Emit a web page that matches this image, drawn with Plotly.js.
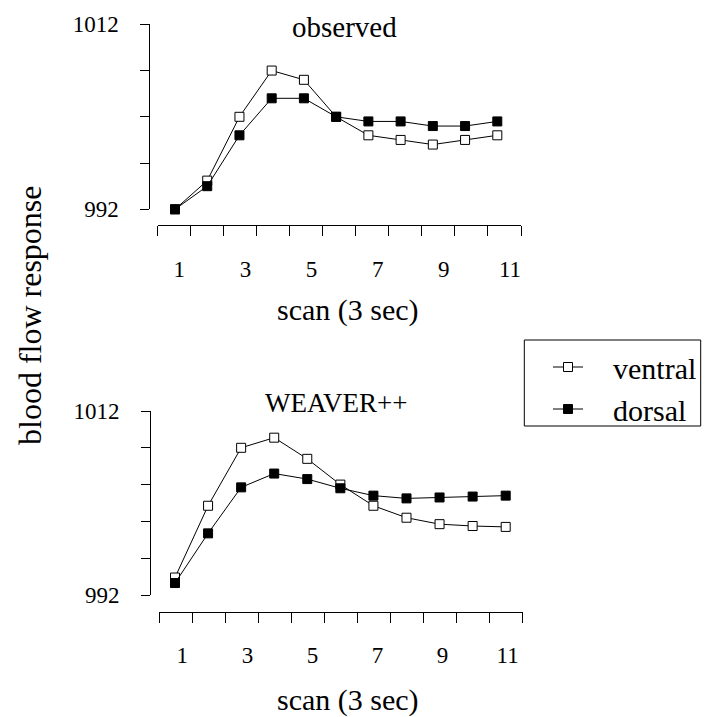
<!DOCTYPE html>
<html>
<head>
<meta charset="utf-8">
<script src="https://cdn.plot.ly/plotly-3.0.1.min.js"></script>
<style>html,body{margin:0;padding:0;background:#fff;}#chart{width:711px;height:717px;}</style>
</head>
<body>
<div id="chart"></div>
<script>
// ---- data ----
const scans = [1, 2, 3, 4, 5, 6, 7, 8, 9, 10, 11];
const observedVentral = [992.0, 995.1, 1002.0, 1007.0, 1006.0, 1002.0, 1000.0, 999.5, 999.0, 999.5, 1000.0];
const observedDorsal  = [992.0, 994.5, 1000.0, 1004.0, 1004.0, 1002.0, 1001.5, 1001.5, 1001.0, 1001.0, 1001.5];
const weaverVentral   = [993.9, 1001.7, 1008.0, 1009.1, 1006.8, 1004.0, 1001.7, 1000.4, 999.7, 999.5, 999.4];
const weaverDorsal    = [993.3, 998.7, 1003.7, 1005.2, 1004.6, 1003.6, 1002.8, 1002.5, 1002.6, 1002.7, 1002.8];
const xLabelVals = [1, 3, 5, 7, 9, 11];
const xLabelText = ["1", "3", "5", "7", "9", "11"];
const xTickCount = 12;
const yTicksTop = [992, 997, 1002, 1007, 1012];
const yTickLabelsTop = ["992", "", "", "", "1012"];
const yTicksBottom = [992, 996, 1000, 1004, 1008, 1012];
const yTickLabelsBottom = ["992", "", "", "", "", "1012"];
const panelTitles = ["observed", "WEAVER++"];
const seriesNames = ["ventral", "dorsal"];
const xLabel = "scan (3 sec)";
const yLabel = "blood flow response";

// ---- layout geometry (pixels) ----
const W = 711, H = 717;
const FONT = "Liberation Serif, Times New Roman, serif";
const fx = p => p / W;
const fy = p => 1 - p / H;
const LEG_PAD = "\u2002\u2005\u200A"; // spacing between legend symbol and text

const panels = [
  {xd: [157.7, 521.0], yd: [24.3, 209.3], xline: 225.0, yline: 149.3, s1: 175.0, s11: 497.3,
   l1: 179.3, l11: 510.0, titleY: 26.6, titleX: 344.5, titleSize: 29, xlabY: 309.5},
  {xd: [159.3, 522.7], yd: [411.0, 595.0], xline: 611.7, yline: 150.0, s1: 175.0, s11: 505.7,
   l1: 182.3, l11: 507.7, titleY: 403.2, titleX: 336.0, titleSize: 27, xlabY: 700.0}
];

function rangeFrom(d, a1, a11, v1, v11) {
  const unit = (a11 - a1) / (v11 - v1);
  return [v1 - (a1 - d[0]) / unit, v11 + (d[1] - a11) / unit];
}

function dataXAxis(p) {
  const r = rangeFrom(p.xd, p.s1, p.s11, scans[0], scans[scans.length - 1]);
  const tv = [];
  for (let k = 0; k < xTickCount; k++) tv.push(r[0] + k * (r[1] - r[0]) / (xTickCount - 1));
  return {
    domain: [fx(p.xd[0]), fx(p.xd[1])],
    range: r,
    anchor: 'free', position: fy(p.xline),
    showline: true, linecolor: '#000', linewidth: 1,
    ticks: 'outside', ticklen: 10, tickwidth: 1, tickcolor: '#000',
    tickmode: 'array', tickvals: tv, showticklabels: false,
    showgrid: false, zeroline: false, fixedrange: true
  };
}
function labelXAxis(p, baseId) {
  const r = rangeFrom(p.xd, p.l1, p.l11, xLabelVals[0], xLabelVals[xLabelVals.length - 1]);
  return {
    overlaying: baseId,
    range: r,
    anchor: 'free', position: fy(p.xline),
    showline: false,
    ticks: 'outside', ticklen: 10, tickwidth: 1, tickcolor: 'rgba(0,0,0,0)',
    tickmode: 'array', tickvals: xLabelVals, ticktext: xLabelText,
    ticklabelstandoff: 13,
    showgrid: false, zeroline: false, fixedrange: true,
    tickfont: {family: FONT, size: 23, color: '#000'}
  };
}
function yAxisFor(p, tv, tt) {
  return {
    domain: [fy(p.yd[1]), fy(p.yd[0])],
    range: [992, 1012],
    anchor: 'free', position: fx(p.yline),
    showline: true, linecolor: '#000', linewidth: 1,
    ticks: 'outside', ticklen: 9, tickwidth: 1, tickcolor: '#000',
    tickmode: 'array', tickvals: tv, ticktext: tt,
    ticklabelstandoff: 17,
    showgrid: false, zeroline: false, fixedrange: true,
    tickfont: {family: FONT, size: 23, color: '#000'}
  };
}

function series(name, y, filled, xa, ya, showleg) {
  return {
    type: 'scatter', mode: 'lines+markers', name: LEG_PAD + name,
    x: scans, y: y, xaxis: xa, yaxis: ya,
    showlegend: showleg, cliponaxis: false,
    line: {color: '#000', width: 1},
    marker: {symbol: 'square', size: 9, color: filled ? '#000' : '#fff',
             line: {color: '#000', width: 1}}
  };
}
// carrier traces (no points) so the label axes are created
function labelCarrier(xa, ya) {
  return {type: 'scatter', mode: 'markers', x: [], y: [], xaxis: xa, yaxis: ya,
          showlegend: false, hoverinfo: 'skip'};
}

const traces = [
  series(seriesNames[0], observedVentral, false, 'x', 'y', true),
  series(seriesNames[1], observedDorsal, true, 'x', 'y', true),
  series(seriesNames[0], weaverVentral, false, 'x2', 'y2', false),
  series(seriesNames[1], weaverDorsal, true, 'x2', 'y2', false),
  labelCarrier('x3', 'y'),
  labelCarrier('x4', 'y2')
];

const annotations = [];
panels.forEach((p, i) => {
  annotations.push({xref: 'paper', yref: 'paper', x: fx(p.titleX), y: fy(p.titleY),
    xanchor: 'center', yanchor: 'middle', showarrow: false, text: panelTitles[i],
    font: {family: FONT, size: p.titleSize, color: '#000'}});
  annotations.push({xref: 'paper', yref: 'paper', x: fx(347.5), y: fy(p.xlabY),
    xanchor: 'center', yanchor: 'middle', showarrow: false, text: xLabel,
    font: {family: FONT, size: 30, color: '#000'}});
});
annotations.push({xref: 'paper', yref: 'paper', x: fx(30), y: fy(315), textangle: -90,
  xanchor: 'center', yanchor: 'middle', showarrow: false, text: yLabel,
  font: {family: FONT, size: 32, color: '#000'}});

const layout = {
  width: W, height: H, autosize: false,
  margin: {l: 0, r: 0, t: 0, b: 0, pad: 0},
  paper_bgcolor: '#fff', plot_bgcolor: 'rgba(0,0,0,0)',
  showlegend: true,
  xaxis: dataXAxis(panels[0]),
  yaxis: yAxisFor(panels[0], yTicksTop, yTickLabelsTop),
  xaxis2: dataXAxis(panels[1]),
  yaxis2: yAxisFor(panels[1], yTicksBottom, yTickLabelsBottom),
  xaxis3: labelXAxis(panels[0], 'x'),
  xaxis4: labelXAxis(panels[1], 'x2'),
  legend: {x: fx(548), y: fy(341), xanchor: 'left', yanchor: 'top',
    bgcolor: 'rgba(0,0,0,0)', borderwidth: 0,
    font: {family: FONT, size: 30, color: '#000'}, tracegroupgap: 0},
  shapes: [{type: 'rect', xref: 'paper', yref: 'paper',
    x0: fx(524.3), x1: fx(700.7), y0: fy(426), y1: fy(340),
    line: {color: '#000', width: 1}, fillcolor: 'rgba(0,0,0,0)'}],
  annotations: annotations
};

Plotly.newPlot('chart', traces, layout, {displayModeBar: false, staticPlot: true});
</script>
</body>
</html>
